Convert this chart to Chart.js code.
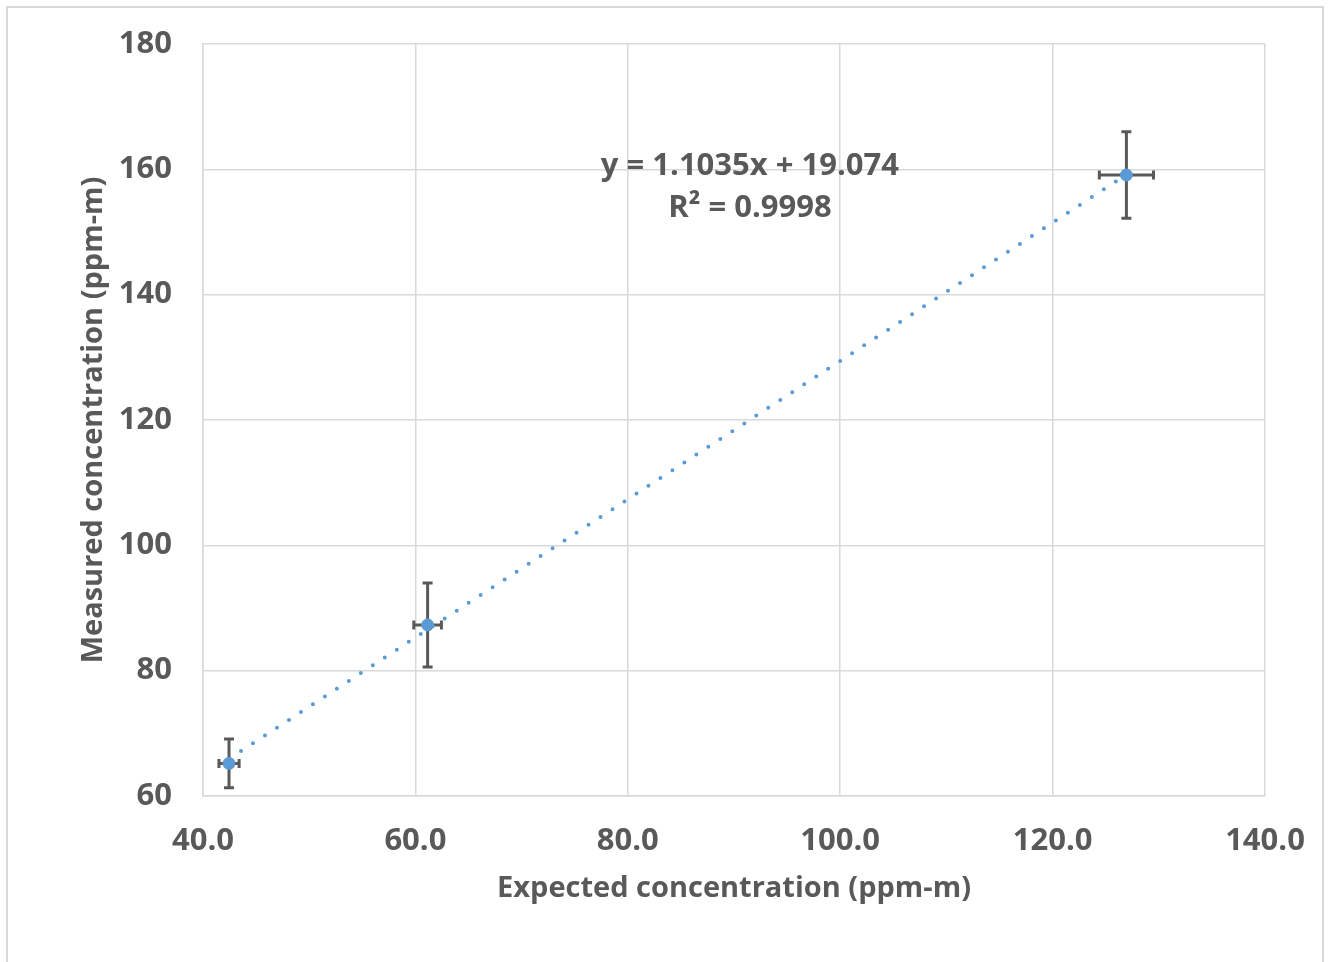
<!DOCTYPE html>
<html>
<head>
<meta charset="utf-8">
<script src="https://cdn.jsdelivr.net/npm/chart.js@4/dist/chart.umd.min.js"></script>
<style>
  html, body { margin: 0; padding: 0; background: #fff; overflow: hidden; }
  #wrap { position: relative; width: 1328px; height: 962px; }
  #myChart { position: absolute; left: 0; top: 0; }
  #frame { position: absolute; left: 6px; top: 6px; width: 1318px; height: 1000px;
           border: 2px solid #d9d9d9; box-sizing: border-box; pointer-events: none; }
</style>
</head>
<body>
<div id="wrap">
  <canvas id="myChart" width="1328" height="962"></canvas>
  <div id="frame"></div>
</div>
<script>
// data
let expected = [42.45, 61.15, 126.95];
let measured = [65.2, 87.3, 159.1];
let xErr = [0.95, 1.3, 2.55];
let yErr = [3.9, 6.7, 6.9];

let slope = 1.1035;
let intercept = 19.074;
let eqText = 'y = 1.1035x + 19.074';
let r2Text = 'R² = 0.9998';

let xTicks = [40, 60, 80, 100, 120, 140];
let yTicks = [60, 80, 100, 120, 140, 160, 180];

const grey = '#595959';
const blue = '#5b9bd5';
const fontFam = '"Open Sans", "Noto Sans", sans-serif';

function drawChart() {
    let ctx = document.getElementById('myChart').getContext('2d');

    let points = expected.map((x, i) => ({x: x, y: measured[i]}));
    let x0 = expected[0], x1 = expected[expected.length - 1];
    let trend = [
        {x: x0, y: slope * x0 + intercept},
        {x: x1, y: slope * x1 + intercept}
    ];

    // error bars, drawn under the markers
    let errorBars = {
        id: 'errorBars',
        beforeDatasetsDraw(chart) {
            let c = chart.ctx, xs = chart.scales.x, ys = chart.scales.y;
            c.save();
            c.strokeStyle = grey;
            c.lineWidth = 3;
            for (let i = 0; i < expected.length; i++) {
                let px = xs.getPixelForValue(expected[i]);
                let py = ys.getPixelForValue(measured[i]);
                let top = ys.getPixelForValue(measured[i] + yErr[i]);
                let bot = ys.getPixelForValue(measured[i] - yErr[i]);
                let lft = xs.getPixelForValue(expected[i] - xErr[i]);
                let rgt = xs.getPixelForValue(expected[i] + xErr[i]);
                c.beginPath();
                c.moveTo(px, top); c.lineTo(px, bot);
                c.moveTo(px - 5, top); c.lineTo(px + 5, top);
                c.moveTo(px - 5, bot); c.lineTo(px + 5, bot);
                c.moveTo(lft, py); c.lineTo(rgt, py);
                c.moveTo(lft, py - 4.5); c.lineTo(lft, py + 4.5);
                c.moveTo(rgt, py - 4.5); c.lineTo(rgt, py + 4.5);
                c.stroke();
            }
            c.restore();
        }
    };

    // trendline equation label
    let eqLabel = {
        id: 'eqLabel',
        afterDatasetsDraw(chart) {
            let c = chart.ctx, xs = chart.scales.x, ys = chart.scales.y;
            let cx = xs.getPixelForValue(91.5);
            let cy = ys.getPixelForValue(160.5);
            c.save();
            c.fillStyle = grey;
            c.font = 'bold 31px ' + fontFam;
            c.textAlign = 'center';
            c.textBaseline = 'middle';
            c.fillText(eqText, cx, cy);
            c.fillText(r2Text, cx, cy + 42);
            c.restore();
        }
    };

    let config = {
        type: 'scatter',
        data: {
            datasets: [{
                label: 'Trend',
                type: 'line',
                data: trend,
                borderColor: blue,
                borderWidth: 4,
                borderDash: [0, 14.3],
                borderCapStyle: 'round',
                pointRadius: 0,
                fill: false
            }, {
                label: 'Measured',
                data: points,
                backgroundColor: blue,
                borderColor: blue,
                pointRadius: 6,
                pointHoverRadius: 6
            }]
        },
        options: {
            responsive: false,
            animation: false,
            layout: { padding: { left: 76, top: 44, right: 63, bottom: 56 } },
            plugins: { legend: { display: false }, tooltip: { enabled: false } },
            scales: {
                x: {
                    type: 'linear',
                    min: 40, max: 140,
                    afterBuildTicks(s) { s.ticks = xTicks.map(v => ({value: v})); },
                    afterFit(s) { s.height = 110; s.paddingLeft = 0; s.paddingRight = 0; },
                    grid: { color: '#d9d9d9', lineWidth: 1.5, drawTicks: false },
                    border: { color: '#d9d9d9', width: 1.5 },
                    ticks: {
                        padding: 27,
                        color: grey,
                        font: { family: fontFam, size: 31, weight: 'bold' },
                        callback: v => v.toFixed(1),
                        maxRotation: 0
                    },
                    title: {
                        display: true,
                        text: 'Expected concentration (ppm-m)',
                        color: grey,
                        padding: 0,
                        font: { family: fontFam, size: 29, weight: 'bold' }
                    }
                },
                y: {
                    type: 'linear',
                    min: 60, max: 180,
                    afterBuildTicks(s) { s.ticks = yTicks.map(v => ({value: v})); },
                    afterFit(s) { s.width = 127; s.paddingTop = 0; s.paddingBottom = 0; },
                    grid: { color: '#d9d9d9', lineWidth: 1.5, drawTicks: false },
                    border: { color: '#d9d9d9', width: 1.5 },
                    ticks: {
                        padding: 31,
                        color: grey,
                        font: { family: fontFam, size: 31, weight: 'bold' }
                    },
                    title: {
                        display: true,
                        text: 'Measured concentration (ppm-m)',
                        color: grey,
                        padding: 0,
                        font: { family: fontFam, size: 29, weight: 'bold' }
                    }
                }
            }
        },
        plugins: [errorBars, eqLabel]
    };
    let myChart = new Chart(ctx, config);
}

drawChart();
</script>
</body>
</html>
